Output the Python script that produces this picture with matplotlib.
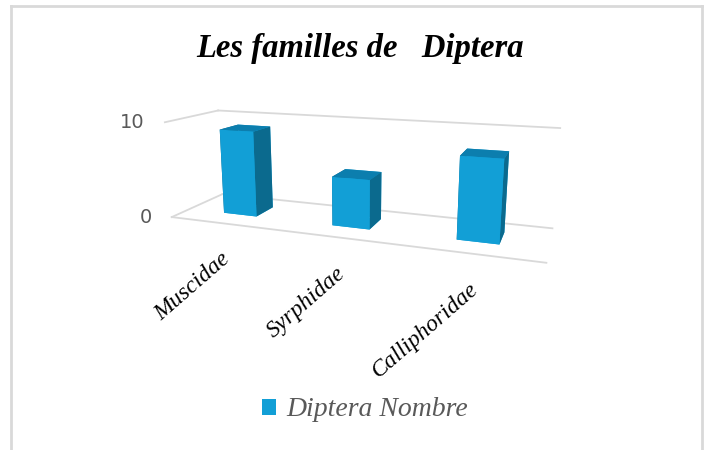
import matplotlib
matplotlib.use("Agg")
import matplotlib.pyplot as plt
import numpy as np
from matplotlib.patches import Patch
from matplotlib.lines import Line2D

# ---- data ----
categories = ["Muscidae", "Syrphidae", "Calliphoridae"]
values = [9, 5, 8]
z_ticks = [0, 10]
z_tick_labels = ["0", "10"]
series_name = "Diptera Nombre"
title = "Les familles de   Diptera"

# ---- style ----
front_col = "#129fd6"
top_col = "#0c7eae"
side_col = "#0b6a8e"
grid_col = "#d9d9d9"
text_gray = "#595959"

W, H = 709, 450
fig = plt.figure(figsize=(W / 100, H / 100), dpi=100)

# camera / box layout (perspective 3-D column chart)
elev, azim, focal = 13.35, -69.92, 0.2526
box = (1.0, 0.2601, 0.2658)
zoom = 0.8672
off_x, off_y = 125.5, -44.2

ax = fig.add_axes([off_x / W, -off_y / H, H / W, 1.0], projection="3d")
ax.view_init(elev=elev, azim=azim)
ax.set_proj_type("persp", focal_length=focal)
ax.set_box_aspect(box, zoom=zoom)

n = len(categories)
x0, x1 = -0.5, n - 0.5
y0, y1 = 0.0, 1.0
ax.set_xlim(x0, x1)
ax.set_ylim(y0, y1)
ax.set_zlim(z_ticks[0], z_ticks[-1])
ax.set_axis_off()

# gridlines on side wall, back wall, and floor front edge
for z in z_ticks:
    for xs_, ys_ in (([x0, x0], [y0, y1]), ([x0, x1], [y1, y1])):
        ln, = ax.plot(xs_, ys_, [z, z], color=grid_col, lw=1.3)
        ln.set_clip_on(False)
ln, = ax.plot([x0, x1], [y0, y0], [0, 0], color=grid_col, lw=1.3)
ln.set_clip_on(False)

# bars
bw, bd, yc = 0.3135, 0.3732, 0.516
colors = []
for _ in range(n):
    # -Z, +Z, -Y, +Y, -X, +X
    colors += [front_col, top_col, front_col, front_col, side_col, side_col]
bars = ax.bar3d(np.arange(n) - bw / 2, np.full(n, yc - bd / 2), np.zeros(n),
                bw, bd, values, color=colors, shade=False, edgecolor="none")
bars.set_clip_on(False)

fig.canvas.draw()


def to_fig(x, y, z):
    M = ax.get_proj()
    v = M @ np.array([x, y, z, 1.0])
    px, py = ax.transData.transform((v[0] / v[3], v[1] / v[3]))
    return px, py


# z tick labels
for z, lab in zip(z_ticks, z_tick_labels):
    px, py = to_fig(x0, y0, z)
    fig.text((px - 20) / W, py / H, lab, ha="right", va="center",
             fontsize=14, color=text_gray, family="DejaVu Sans")

# category labels
for i, c in enumerate(categories):
    px, py = to_fig(i, y0, 0)
    fig.text((px + 4) / W, (py - 33) / H, c, ha="right", va="center",
             rotation=41, rotation_mode="anchor", fontsize=17,
             style="italic", family="Liberation Serif", color="black")

fig.text(0.508, 0.892, title, ha="center", va="center", fontsize=23.5,
         style="italic", weight="bold", family="Liberation Serif")

fig.legend(handles=[Patch(facecolor=front_col, label=series_name)],
           loc="center", bbox_to_anchor=(365 / W, 1 - 410 / H), frameon=False,
           prop={"family": "Liberation Serif", "style": "italic", "size": 20},
           labelcolor=text_gray, handlelength=0.5, handleheight=0.5,
           handletextpad=0.35)

# chart border
bc = "#d9d9d9"
tf = fig.transFigure
fig.add_artist(Line2D([11 / W, 11 / W], [0, 1 - 6 / H], color=bc, lw=2, transform=tf))
fig.add_artist(Line2D([11 / W, 702 / W], [1 - 6 / H, 1 - 6 / H], color=bc, lw=2, transform=tf))
fig.add_artist(Line2D([702 / W, 702 / W], [0, 1 - 6 / H], color=bc, lw=2, transform=tf))

fig.savefig("out.png", dpi=100)
